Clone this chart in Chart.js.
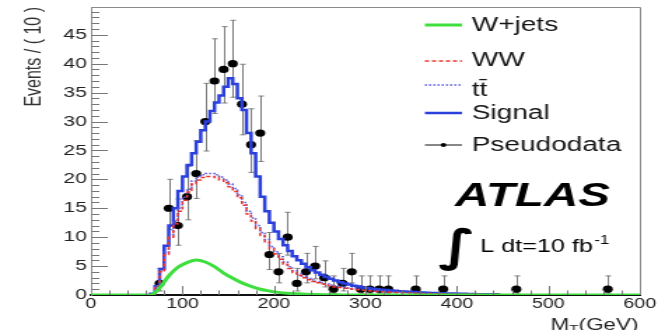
<!DOCTYPE html>
<html>
<head>
<meta charset="utf-8">
<script src="https://cdn.jsdelivr.net/npm/chart.js@4.4.1/dist/chart.umd.min.js"></script>
<style>
  html, body { margin: 0; padding: 0; background: #fff; }
</style>
</head>
<body>
<!-- canvas is drawn narrow and widened by CSS, like the stretched ROOT export -->
<canvas id="plot" width="475" height="330" style="display:block;width:665px;height:330px"></canvas>
<script>
// W+jets shape, 10 GeV bin centres (drawn as a smooth curve over the full axis)
const wjetsMass = [0, 55, 65, 75, 85, 95, 105, 115, 125, 135, 145, 155, 165, 175, 185, 195, 205, 215, 225, 235,
  245, 255, 265, 275, 285, 295, 600];
const wjets = [0, 0, 0, 1.2, 3.3, 4.8, 5.6, 6.05, 5.7, 4.9, 3.8, 2.9, 2.1, 1.5, 1.0, 0.7, 0.45, 0.3, 0.2, 0.12,
  0.08, 0.05, 0.03, 0.02, 0.01, 0, 0];

// WW, ttbar and signal histograms in 5 GeV bins, 62.5 ... 447.5 GeV
const mcBins = Array.from({ length: 78 }, (_, i) => 62.5 + 5 * i);

const ww = [
  0, 0.1, 1.5, 4.0, 7.0, 10.0, 12.3, 14.5, 16.4, 17.8,
  19.2, 19.9, 20.3, 20.5, 20.5, 20.3, 19.9, 19.4, 18.7, 17.9,
  16.8, 15.5, 14.0, 12.8, 11.5, 10.3, 9.2, 8.0, 7.1, 6.2,
  5.3, 4.6, 3.9, 3.4, 3.0, 2.65, 2.35, 2.1, 1.9, 1.7,
  1.55, 1.4, 1.28, 1.17, 1.07, 0.98, 0.9, 0.82, 0.75, 0.69,
  0.63, 0.58, 0.53, 0.49, 0.45, 0.41, 0.38, 0.35, 0.32, 0.3,
  0.28, 0.26, 0.24, 0.22, 0.2, 0.18, 0.17, 0.16, 0.15, 0.14,
  0.13, 0.12, 0.11, 0.1, 0.09, 0.08, 0.07, 0.06];

const ttbar = [
  0, 0.1, 1.6, 4.3, 7.4, 10.4, 12.8, 15.0, 16.9, 18.3,
  19.7, 20.4, 20.8, 21.0, 21.0, 20.8, 20.4, 19.9, 19.2, 18.4,
  17.3, 16.0, 14.5, 13.3, 12.0, 10.8, 9.6, 8.4, 7.5, 6.6,
  5.7, 4.9, 4.2, 3.7, 3.3, 2.9, 2.6, 2.35, 2.1, 1.9,
  1.75, 1.6, 1.45, 1.33, 1.22, 1.12, 1.03, 0.94, 0.86, 0.79,
  0.72, 0.66, 0.61, 0.56, 0.52, 0.48, 0.44, 0.4, 0.37, 0.34,
  0.32, 0.3, 0.28, 0.26, 0.24, 0.22, 0.2, 0.19, 0.18, 0.17,
  0.16, 0.15, 0.14, 0.13, 0.12, 0.11, 0.1, 0.09];

const signal = [
  0, 0.2, 1.5, 4.5, 8.5, 12, 15, 18, 20.5, 22.5,
  24.5, 26.5, 28.5, 30, 31.8, 33.3, 34.5, 36, 37.5, 36.5,
  34, 32, 28, 24.5, 20.5, 17, 14.5, 12.5, 11, 9.7,
  8.6, 7.6, 6.7, 6.0, 5.4, 4.8, 4.3, 3.9, 3.5, 3.1,
  2.8, 2.5, 2.2, 2.0, 1.8, 1.6, 1.45, 1.3, 1.2, 1.1,
  1.0, 0.92, 0.85, 0.78, 0.72, 0.66, 0.6, 0.55, 0.5, 0.46,
  0.42, 0.39, 0.36, 0.33, 0.3, 0.28, 0.26, 0.24, 0.22, 0.2,
  0.18, 0.17, 0.15, 0.14, 0.13, 0.12, 0.11, 0.1];

// pseudodata: 10 GeV bin centre, events, and the ends of the Poisson error bar
const dataMass = [75, 85, 95, 105, 115, 125, 135, 145, 155, 165, 175, 185, 195, 205, 215, 225, 235, 245, 255, 265,
  275, 285, 295, 305, 315, 325, 355, 385, 465, 565];
const dataEvents = [2, 15, 12, 17, 21, 30, 37, 39, 40, 33, 26, 28, 7, 4, 10, 2, 4, 5, 3, 1,
  2, 4, 1, 1, 1, 1, 1, 1, 1, 1];
const dataLow = [0.7, 11.3, 8.6, 13.0, 16.7, 24.9, 31.4, 33.2, 34.2, 27.7, 21.2, 23.1, 4.4, 2.1, 6.9, 0.7, 2.1, 2.8, 1.4, 0.2,
  0.7, 2.1, 0.2, 0.2, 0.2, 0.2, 0.2, 0.2, 0.2, 0.2];
const dataHigh = [4.6, 20.0, 16.6, 22.2, 26.7, 36.6, 44.3, 46.4, 47.5, 39.9, 32.2, 34.4, 10.8, 7.2, 14.3, 4.6, 7.2, 8.4, 5.9, 3.3,
  4.6, 7.2, 3.3, 3.3, 3.3, 3.3, 3.3, 3.3, 3.3, 3.3];

const xTickValues = [0, 100, 200, 300, 400, 500, 600];
const yTickValues = [0, 5, 10, 15, 20, 25, 30, 35, 40, 45];

const legendLabels = ['W+jets', 'WW', 'tt\u0304', 'Signal', 'Pseudodata'];

const GREEN = '#3ede3e';
const RED = '#e8342c';
const BLUE_DOT = '#5858e0';
const BLUE = '#2a3fdc';
const FONT = '"Liberation Sans", Arial, Helvetica, sans-serif';

const hist = (ys) => mcBins.map((m, i) => ({ x: m, y: ys[i] }));

const legendRows = [
  { y: 25, color: GREEN, width: 3, dash: [], textY: 25 },
  { y: 61, color: RED, width: 1.5, dash: [3, 2], textY: 60 },
  { y: 85, color: BLUE_DOT, width: 1.5, dash: [1.5, 1.5], textY: 90 },
  { y: 113, color: BLUE, width: 2.5, dash: [], textY: 113 },
  { y: 145, color: '#111', width: 1, dash: [], textY: 145, marker: true }
];

const rootStyle = {
  id: 'rootStyle',
  beforeDatasetDraw(chart, args) {
    if (args.index !== 4) return;
    const { ctx, scales: { x, y } } = chart;
    ctx.save();
    ctx.strokeStyle = '#7c7c7c';
    ctx.lineWidth = 1;
    ctx.beginPath();
    dataMass.forEach((m, i) => {
      const px = Math.round(x.getPixelForValue(m)) + 0.5;
      const top = y.getPixelForValue(dataHigh[i]);
      const bot = y.getPixelForValue(dataLow[i]);
      ctx.moveTo(px, top); ctx.lineTo(px, bot);
      ctx.moveTo(px - 2, top); ctx.lineTo(px + 2, top);
      ctx.moveTo(px - 2, bot); ctx.lineTo(px + 2, bot);
    });
    ctx.stroke();
    ctx.restore();
  },
  afterDraw(chart) {
    const { ctx, chartArea: { left, right, top, bottom }, scales: { x, y } } = chart;
    ctx.save();

    // frame top and right
    ctx.strokeStyle = '#8a8a8a';
    ctx.lineWidth = 1;
    ctx.beginPath();
    ctx.moveTo(left, top + 0.5); ctx.lineTo(right + 0.5, top + 0.5); ctx.lineTo(right + 0.5, bottom);
    ctx.stroke();

    // inward ticks, ROOT style
    ctx.strokeStyle = '#777';
    ctx.beginPath();
    for (let v = 1; v < 50; v++) {
      const py = Math.round(y.getPixelForValue(v)) + 0.5;
      ctx.moveTo(left, py); ctx.lineTo(left + (v % 5 === 0 ? 12 : 6), py);
    }
    for (let v = 20; v < 600; v += 20) {
      const px = Math.round(x.getPixelForValue(v)) + 0.5;
      ctx.moveTo(px, bottom); ctx.lineTo(px, bottom - (v % 100 === 0 ? 9 : 4.5));
    }
    ctx.stroke();

    // legend
    const x0 = 303.5, x1 = 330, tx = 337;
    ctx.font = '20px ' + FONT;
    ctx.textBaseline = 'middle';
    ctx.textAlign = 'left';
    legendRows.forEach((r, i) => {
      ctx.strokeStyle = r.color;
      ctx.lineWidth = r.width;
      ctx.setLineDash(r.dash);
      ctx.beginPath();
      ctx.moveTo(x0, r.y); ctx.lineTo(x1, r.y);
      ctx.stroke();
      ctx.setLineDash([]);
      if (r.marker) {
        ctx.fillStyle = '#000';
        ctx.beginPath();
        ctx.arc((x0 + x1) / 2, r.y, 2, 0, Math.PI * 2);
        ctx.fill();
      }
      ctx.fillStyle = '#151515';
      ctx.fillText(legendLabels[i], tx, r.textY);
    });

    // experiment label
    ctx.textBaseline = 'alphabetic';
    ctx.fillStyle = '#000';
    ctx.font = 'italic bold 34px ' + FONT;
    ctx.fillText('ATLAS', 325, 206);

    // integrated luminosity
    ctx.font = 'bold 44px "DejaVu Sans", sans-serif';
    ctx.fillText('\u222B', 313, 261);
    ctx.font = '18px ' + FONT;
    const lumi = 'L dt=10 fb';
    ctx.fillText(lumi, 343, 252);
    const lw = ctx.measureText(lumi).width;
    ctx.font = '12px ' + FONT;
    ctx.fillText('-1', 343 + lw + 1, 244);

    // x-axis title with subscript
    ctx.fillStyle = '#222';
    ctx.font = '16px ' + FONT;
    const wM = ctx.measureText('M').width;
    const wRest = ctx.measureText('(GeV)').width;
    ctx.font = '11px ' + FONT;
    const wT = ctx.measureText('T').width;
    let cx = 456 - (wM + wT + wRest);
    ctx.font = '16px ' + FONT;
    ctx.fillText('M', cx, 330);
    cx += wM;
    ctx.font = '11px ' + FONT;
    ctx.fillText('T', cx, 333);
    cx += wT;
    ctx.font = '16px ' + FONT;
    ctx.fillText('(GeV)', cx, 330);

    ctx.restore();
  }
};

new Chart(document.getElementById('plot'), {
  type: 'line',
  data: {
    datasets: [
      {
        label: 'W+jets',
        data: wjetsMass.map((m, i) => ({ x: m, y: wjets[i] })),
        borderColor: GREEN, borderWidth: 3,
        cubicInterpolationMode: 'monotone', pointRadius: 0
      },
      {
        label: 'WW',
        data: hist(ww),
        borderColor: RED, borderWidth: 1.5, borderDash: [3, 2],
        stepped: 'middle', pointRadius: 0
      },
      {
        label: 'tt',
        data: hist(ttbar),
        borderColor: BLUE_DOT, borderWidth: 1.5, borderDash: [1.5, 1.5],
        stepped: 'middle', pointRadius: 0
      },
      {
        label: 'Signal',
        data: hist(signal),
        borderColor: BLUE, borderWidth: 2.5,
        stepped: 'middle', pointRadius: 0
      },
      {
        label: 'Pseudodata',
        data: dataMass.map((m, i) => ({ x: m, y: dataEvents[i] })),
        showLine: false,
        pointRadius: 3.6, pointBorderWidth: 0,
        pointBackgroundColor: '#000', pointBorderColor: '#000'
      }
    ]
  },
  options: {
    responsive: false,
    devicePixelRatio: 1,
    animation: false,
    events: [],
    layout: { padding: { left: 0, top: 7, right: 18, bottom: 0 } },
    plugins: { legend: { display: false }, tooltip: { enabled: false } },
    scales: {
      x: {
        type: 'linear', min: 0, max: 600,
        grid: { display: false, drawTicks: false },
        border: { display: true, color: '#111', width: 2 },
        afterBuildTicks: (s) => { s.ticks = xTickValues.map((v) => ({ value: v })); },
        afterFit: (s) => { s.height = 35; s.paddingLeft = 0; s.paddingRight = 0; },
        ticks: {
          autoSkip: false, maxRotation: 0, padding: 1, color: '#222',
          font: { family: FONT, size: 14 }
        }
      },
      y: {
        type: 'linear', min: 0, max: 49.8,
        grid: { display: false, drawTicks: false },
        border: { display: true, color: '#888', width: 1 },
        afterBuildTicks: (s) => { s.ticks = yTickValues.map((v) => ({ value: v })); },
        afterFit: (s) => { s.width = 65; s.paddingTop = 0; s.paddingBottom = 0; },
        ticks: {
          autoSkip: false, padding: 3, color: '#222',
          font: { family: FONT, size: 15 }
        },
        title: {
          display: true, text: 'Events / ( 10 )', align: 'end',
          color: '#333', font: { family: FONT, size: 16 },
          padding: { top: 15, bottom: 0 }
        }
      }
    }
  },
  plugins: [rootStyle]
});
</script>
</body>
</html>
